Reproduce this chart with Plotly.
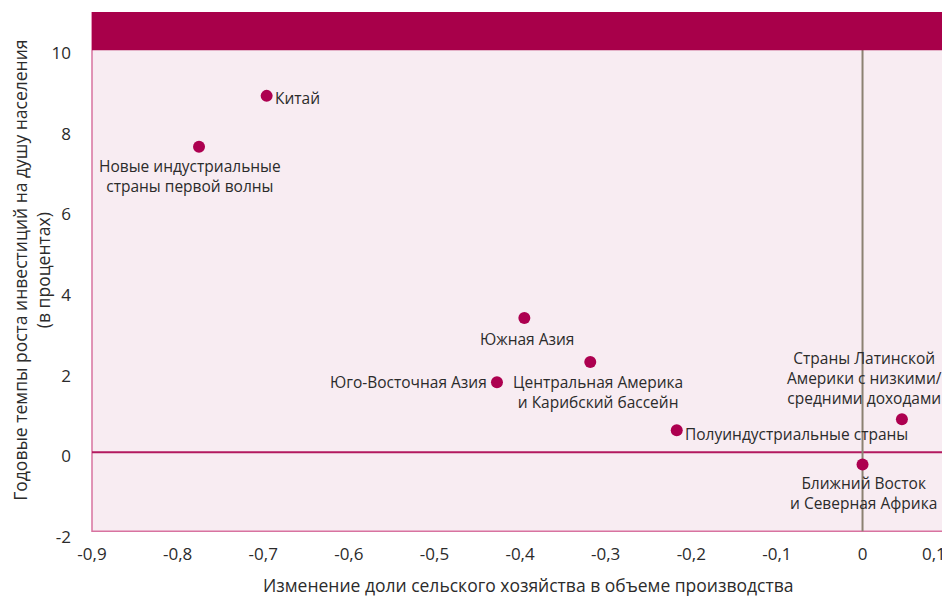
import plotly.graph_objects as go

# regions: change in agriculture share of output vs annual growth of investment per capita
regions = [
    "Китай",
    "Новые индустриальные<br>страны первой волны",
    "Южная Азия",
    "Центральная Америка<br>и Карибский бассейн",
    "Юго-Восточная Азия",
    "Полуиндустриальные страны",
    "Страны Латинской<br>Америки с низкими/<br>средними доходами",
    "Ближний Восток<br>и Северная Африка",
]
agri_change = [-0.696, -0.775, -0.395, -0.318, -0.427, -0.217, 0.046, 0.0]
invest_growth = [8.94, 7.68, 3.43, 2.34, 1.84, 0.65, 0.92, -0.2]

x_ticks = [-0.9, -0.8, -0.7, -0.6, -0.5, -0.4, -0.3, -0.2, -0.1, 0, 0.1]
x_tick_text = ["-0,9", "-0,8", "-0,7", "-0,6", "-0,5", "-0,4", "-0,3", "-0,2",
               "-0,1", "0", "0,1"]
y_ticks = [-2, 0, 2, 4, 6, 8, 10]
y_tick_text = ["-2", "0", "2", "4", "6", "8", "10"]

X_RANGE = [-0.9, 0.101]
Y_RANGE = [-2.0, 11.02]
Y_FLOOR = -1.86  # bottom edge of the shaded panel

DOT = "#ad0050"
BAND = "#a8004a"
FONT = "Open Sans"
INK = "#2b2b2b"

# label placement per point: xanchor, yanchor, xshift, yshift
label_pos = [
    ("left", "middle", 6, -2),
    ("center", "top", -9, -6),
    ("center", "top", 3, -8),
    ("center", "top", 8, -7),
    ("right", "middle", -8, 0),
    ("left", "middle", 6, -4),
    ("center", "bottom", -37, 8),
    ("center", "top", 1, -6),
]

fig = go.Figure()
fig.add_trace(
    go.Scatter(
        x=agri_change,
        y=invest_growth,
        mode="markers",
        marker=dict(size=12, color=DOT),
        hoverinfo="skip",
        showlegend=False,
    )
)

for name, xv, yv, (xa, ya, xs, ys) in zip(regions, agri_change, invest_growth, label_pos):
    fig.add_annotation(
        x=xv, y=yv, text=name, showarrow=False,
        xanchor=xa, yanchor=ya, xshift=xs, yshift=ys,
        align="center",
        font=dict(family=FONT, size=15.5, color=INK),
    )

# shaded panel with border, top band, zero lines
fig.add_shape(type="rect", xref="paper", yref="y", x0=0, x1=1, y0=Y_FLOOR, y1=Y_RANGE[1],
              fillcolor="#f8ecf2", line=dict(color="#d873a0", width=1.5), layer="below")
fig.add_shape(type="line", xref="paper", yref="y", x0=0, x1=1, y0=0.1, y1=0.1,
              line=dict(color="#b3195f", width=2), layer="below")
fig.add_shape(type="line", xref="x", yref="y", x0=0, x1=0, y0=Y_FLOOR, y1=10.2,
              line=dict(color="#8c8272", width=2), layer="below")
fig.add_shape(type="rect", xref="paper", yref="y", x0=0, x1=1, y0=10.07, y1=Y_RANGE[1],
              fillcolor=BAND, line_width=0, layer="above")

# last x tick label sits flush with the right edge, so it is right-aligned
fig.add_annotation(
    xref="x", yref="paper", x=x_ticks[-1], y=0, yshift=-16,
    text=x_tick_text[-1], showarrow=False, xanchor="right", yanchor="middle",
    font=dict(family=FONT, size=17, color=INK),
)

fig.add_annotation(
    xref="paper", yref="paper", x=-0.07, y=0.507, textangle=-90,
    text="Годовые темпы роста инвестиций на душу населения<br>(в процентах)",
    showarrow=False, xanchor="center", yanchor="middle",
    font=dict(family=FONT, size=17.5, color=INK),
)
fig.add_annotation(
    xref="paper", yref="paper", x=0.509, y=0, yshift=-48,
    text="Изменение доли сельского хозяйства в объеме производства",
    showarrow=False, xanchor="center", yanchor="middle",
    font=dict(family=FONT, size=17.5, color=INK),
)

axis_style = dict(showline=False, showgrid=False, zeroline=False, ticks="",
                  automargin=False,
                  tickfont=dict(family=FONT, size=17, color=INK))
# page body adds an 8px offset, so the figure is sized to fit inside the window
fig.update_layout(
    width=942,
    height=588,
    margin=dict(l=84, r=1, t=4, b=59),
    paper_bgcolor="white",
    plot_bgcolor="white",
    font=dict(family=FONT, size=15, color=INK),
    xaxis=dict(range=X_RANGE, tickvals=x_ticks[:-1], ticktext=x_tick_text[:-1],
               ticklabelstandoff=5, **axis_style),
    yaxis=dict(range=Y_RANGE, tickvals=y_ticks, ticktext=y_tick_text,
               ticklabelstandoff=20, **axis_style),
)

fig.write_html("out.html")
